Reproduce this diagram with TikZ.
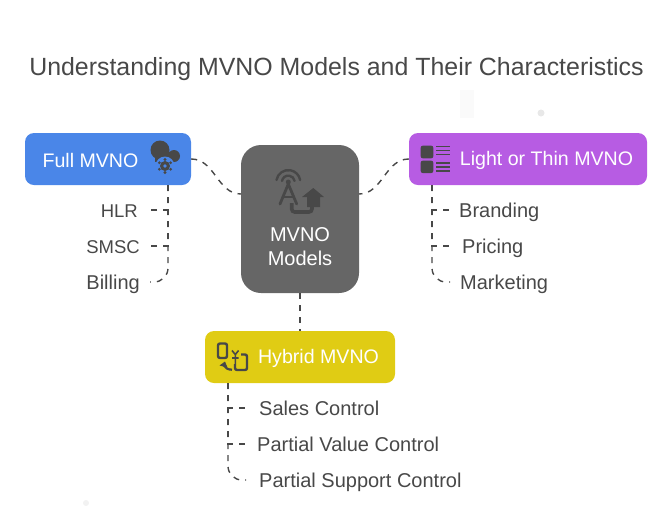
\documentclass[tikz,border=0pt]{standalone}
\usepackage{fontspec}
\setmainfont{Liberation Sans}
\usetikzlibrary{calc}
\usetikzlibrary{positioning}
\definecolor{ink}{RGB}{72,72,72}
\definecolor{hubgray}{RGB}{102,102,102}
\definecolor{fullblue}{RGB}{74,134,232}
\definecolor{lightpurple}{RGB}{183,92,227}
\definecolor{hybridyellow}{RGB}{224,204,20}
\definecolor{speck}{RGB}{232,232,232}
\begin{document}
\begin{tikzpicture}[x=1pt,y=-1pt,
  plan/.style={draw=none,fill=#1,rounded corners=9pt,minimum height=52pt,inner sep=0pt},
  plantext/.style={text=white,font=\fontsize{19.6}{22}\selectfont},
  link/.style={draw=ink,line width=1.4pt,dash pattern=on 6pt off 6pt},
  leaf/.style={inner ysep=0pt,inner xsep=#1,text height=16pt,text depth=1pt,text=ink,font=\fontsize{20}{22}\selectfont}]

\useasboundingbox (0,0) rectangle (672,507);

\node[text=ink,font=\fontsize{24.9}{28}\selectfont] (title) at (336.5,69) {Understanding MVNO Models and Their Characteristics};

% boxes
\node[plan=hubgray,rounded corners=20pt,minimum width=118pt,minimum height=148pt] (hub) at (300,219) {};
\node[text=white,align=center,font=\fontsize{20}{24}\selectfont] (hubtext) at (300,247) {MVNO\\Models};
\node[plan=fullblue,minimum width=166pt] (full) at (108,159) {};
\node[plan=lightpurple,minimum width=238pt] (light) at (528,159) {};
\node[plan=hybridyellow,minimum width=190pt] (hybrid) at (300,357) {};
\node[plantext] (fulltext) at (90.5,160) {Full MVNO};
\node[plantext] (lighttext) at (546.5,160.5) {Light or Thin MVNO};
\node[plantext] (hybridtext) at (318.5,358.5) {Hybrid MVNO};

% leaves
\node[leaf=12pt,anchor=east,font=\fontsize{18.5}{22}\selectfont] (hlr) at (150,210) {HLR};
\node[leaf=10pt,anchor=east,font=\fontsize{18.5}{22}\selectfont] (smsc) at (150,246) {SMSC};
\node[leaf=10pt,anchor=east] (billing) at (150,282) {Billing};
\node[leaf=9pt,anchor=west] (branding) at (450,210) {Branding};
\node[leaf=12pt,anchor=west] (pricing) at (450,246) {Pricing};
\node[leaf=10pt,anchor=west] (marketing) at (450,282) {Marketing};
\node[leaf=13pt,anchor=west] (sales) at (246,408) {Sales Control};
\node[leaf=11pt,anchor=west] (value) at (246,444) {Partial Value Control};
\node[leaf=13pt,anchor=west] (support) at (246,480) {Partial Support Control};

\coordinate (hubwest) at (241,194);
\coordinate (hubeast) at (359,194);
\coordinate (fullfoot) at (168,185);
\coordinate (lightfoot) at (432,185);
\coordinate (hybridfoot) at (228,383);

% connectors
\draw[link] (full.east) to[out=0,in=180] (hubwest);
\draw[link] (light.west) to[out=180,in=0] (hubeast);
\draw[link] (hub.south) -- (hybrid.north);
\foreach \foot/\first/\second/\third in {fullfoot/hlr.east/smsc.east/billing.east,lightfoot/branding.west/pricing.west/marketing.west,hybridfoot/sales.west/value.west/support.west}{
  \draw[link] (\foot) |- (\first);
  \draw[link] (\foot) |- (\second);
  \draw[link,rounded corners=14pt] (\foot) |- (\third);
}

% icon of the full box
\fill[ink] (160,150) circle (9.5pt) (174,156) circle (6pt);
\fill[ink] (155,154) rectangle (174,162);
\fill[fullblue] (165,166) circle (9.5pt);
\fill[ink] (165,166) circle (5pt);
\foreach \a in {30,90,...,330}{\fill[ink] (165,166) ++(\a:6.5pt) circle (1.6pt);}
\fill[fullblue] (165,166) circle (1.8pt);

% icon of the hub
\draw[ink,line width=2.4pt,line cap=round] (282,180.9) arc (170:10:6.4pt);
\draw[ink,line width=2.4pt,line cap=round] (276.5,180) arc (170:10:12pt);
\fill[ink] (288.3,182) circle (2.5pt);
\draw[ink,line width=2.8pt,line cap=round,line join=round] (280,204) -- (288.3,184) -- (296.7,204);
\draw[ink,line width=2pt] (283,197) -- (294,197);
\draw[ink,line width=3.6pt,rounded corners=3pt] (291.7,203) -- (291.7,212) -- (312,212) -- (312,205);
\fill[ink] (302,197) -- (313.3,188) -- (324,197) -- (320,197) -- (320,207) -- (307,207) -- (307,197) -- cycle;

% icon of the light box
\fill[ink,rounded corners=2pt] (420.7,145.7) rectangle (433.3,158.3);
\fill[ink,rounded corners=2pt] (420.7,160.7) rectangle (433.3,173);
\foreach \y in {146.3,150.3,154.3,163,167,171}{\draw[ink,line width=1.5pt] (436.3,\y) -- (449.7,\y);}

% icon of the hybrid box
\draw[ink,line width=2.4pt,rounded corners=2pt] (218,343.5) rectangle (227,358);
\draw[ink,line width=2.4pt,rounded corners=2pt] (241,354.5) -- (247,354.5) -- (247,370) -- (235,370) -- (235,364);
\draw[ink,line width=1.6pt] (232,350.5) -- (235.3,354.5) -- (238.6,350.5) (235.3,354.5) -- (235.3,364) (232,358) -- (238.6,358);
\draw[ink,line width=2.2pt] (232,369.7) .. controls (228,369.7) and (225,368) .. (223.5,365);
\fill[ink] (219.5,365.5) -- (225,361.5) -- (227.5,367.5) -- cycle;

% faint marks
\fill[black!2] (460,90) rectangle (474,118);
\fill[speck] (541,113) circle (3.5pt);
\fill[black!5] (86,503) circle (3pt);
\end{tikzpicture}
\end{document}
